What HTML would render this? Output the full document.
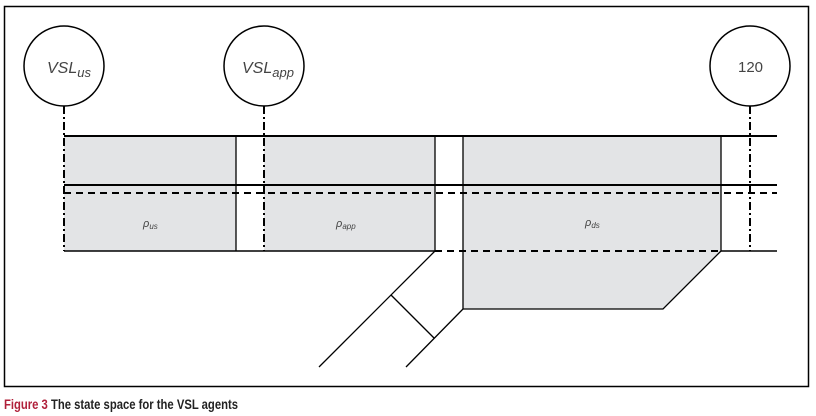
<!DOCTYPE html>
<html><head><style>
html,body{margin:0;padding:0;background:#fff;width:816px;height:416px;overflow:hidden}
svg{display:block}
</style></head><body>
<svg width="816" height="416" viewBox="0 0 816 416" xmlns="http://www.w3.org/2000/svg">
<rect x="4.5" y="6.5" width="804" height="380" fill="none" stroke="#000" stroke-width="1.5"/>
<g fill="#e3e4e6">
<rect x="64" y="136" width="172" height="115"/>
<rect x="264" y="136" width="171" height="115"/>
<polygon points="463,136 721,136 721,251 663,309 463,309"/>
</g>
<g stroke="#000" fill="none">
<line x1="64" y1="136" x2="777" y2="136" stroke-width="2"/>
<line x1="64" y1="185" x2="777" y2="185" stroke-width="2"/>
<line x1="64" y1="193" x2="777" y2="193" stroke-width="2" stroke-dasharray="7,5"/>
<line x1="64" y1="251" x2="435" y2="251" stroke-width="1.5"/>
<line x1="721" y1="251" x2="777" y2="251" stroke-width="1.5"/>
<line x1="435" y1="251" x2="721" y2="251" stroke-width="2" stroke-dasharray="7,5"/>
<line x1="236" y1="136" x2="236" y2="251" stroke-width="1.3"/>
<line x1="435" y1="136" x2="435" y2="251" stroke-width="1.3"/>
<line x1="463" y1="136" x2="463" y2="309" stroke-width="1.3"/>
<line x1="721" y1="136" x2="721" y2="251" stroke-width="1.3"/>
<polyline points="721,251 663,309 463,309" stroke-width="1.3"/>
<line x1="435" y1="251" x2="319" y2="367" stroke-width="1.3"/>
<line x1="463" y1="309" x2="406" y2="367" stroke-width="1.3"/>
<line x1="391" y1="295" x2="434" y2="338" stroke-width="1.3"/>
<g stroke-width="2" stroke-dasharray="8,3,2,3">
<line x1="64" y1="106" x2="64" y2="251"/>
<line x1="264" y1="106" x2="264" y2="251"/>
<line x1="750" y1="106" x2="750" y2="251"/>
</g>
<circle cx="64" cy="66" r="40" stroke-width="1.5" fill="#fff"/>
<circle cx="264" cy="66" r="40" stroke-width="1.5" fill="#fff"/>
<circle cx="750" cy="66" r="40" stroke-width="1.5" fill="#fff"/>
</g>
<g font-family="Liberation Sans, sans-serif" fill="#444" font-style="italic">
<text x="47" y="73" font-size="16">VSL<tspan font-size="13" dy="4">us</tspan></text>
<text x="242" y="73" font-size="16">VSL<tspan font-size="13" dy="4">app</tspan></text>
<text x="143" y="227" font-size="11">ρ<tspan font-size="8" dy="2">us</tspan></text>
<text x="336" y="227" font-size="11">ρ<tspan font-size="8" dy="2">app</tspan></text>
<text x="585" y="226" font-size="11">ρ<tspan font-size="8" dy="2">ds</tspan></text>
</g>
<text x="738" y="72" font-family="Liberation Sans, sans-serif" font-size="15" fill="#444">120</text>
<text x="4" y="409" font-family="Liberation Sans, sans-serif" font-size="14" font-weight="bold" textLength="234" lengthAdjust="spacingAndGlyphs"><tspan fill="#b0203a">Figure 3</tspan><tspan fill="#222"> The state space for the VSL agents</tspan></text>
</svg>
</body></html>
